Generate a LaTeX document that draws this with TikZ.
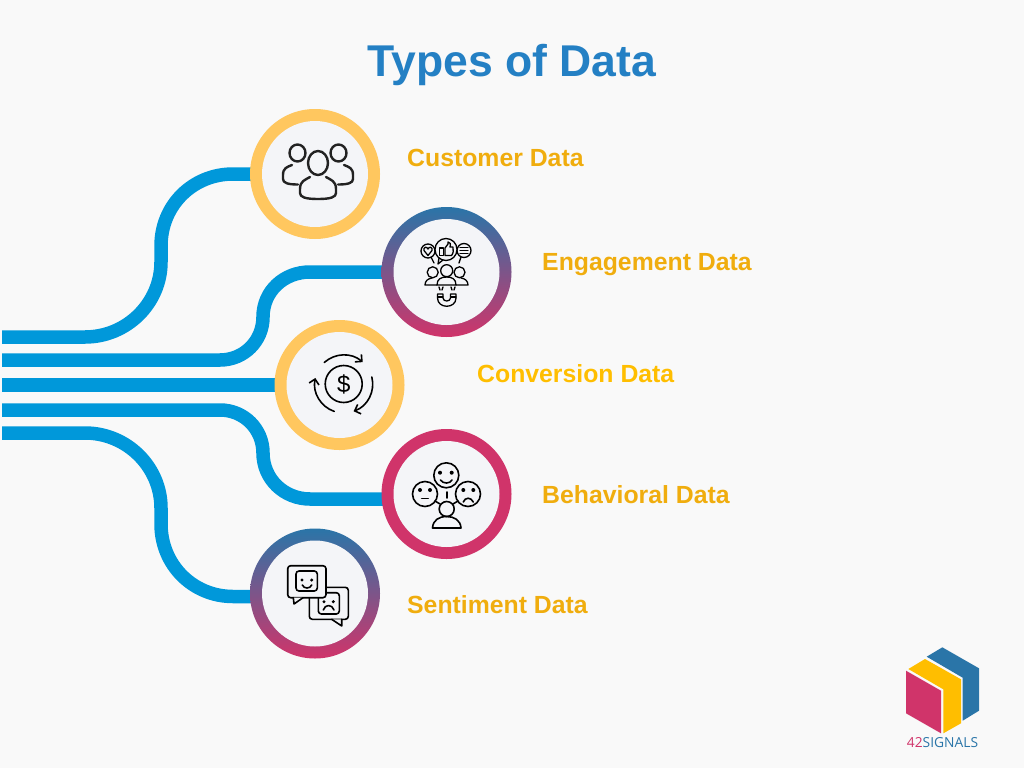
\documentclass[tikz,border=0pt]{standalone}
\usepackage{fontspec}
\setmainfont{Liberation Sans}
\newfontfamily\logofont{Open Sans}
\usetikzlibrary{arrows.meta}
\definecolor{paper}{HTML}{F9F9F9}
\definecolor{hubfill}{HTML}{F4F5F8}
\definecolor{wireblue}{HTML}{0098DA}
\definecolor{titleblue}{HTML}{2480C4}
\definecolor{labelgold}{HTML}{F0AD0E}
\definecolor{ringgold}{HTML}{FFC75F}
\definecolor{ringblue}{HTML}{2A75A8}
\definecolor{ringpink}{HTML}{D0346A}
\definecolor{logoyellow}{HTML}{FFBE00}
\definecolor{inkdark}{HTML}{222222}
\pgfdeclarelayer{back}
\pgfsetlayers{back,main}
\tikzset{
  wire/.style={draw=wireblue,line width=13.5pt},
  ringgoldnode/.style={circle,inner sep=0pt,minimum size=130pt,fill=ringgold},
  ringpinknode/.style={circle,inner sep=0pt,minimum size=130pt,fill=ringpink},
  ringfade/.style={circle,inner sep=0pt,minimum size=130pt,top color=ringblue,bottom color=ringpink},
  hub/.style={circle,inner sep=0pt,minimum size=106pt,fill=hubfill},
  tag/.style={anchor=base west,inner sep=0pt,font=\bfseries\fontsize{24.8}{25}\selectfont,text=labelgold},
  ink/.style={draw=black,line width=1.6pt,line cap=round,line join=round},
}
\begin{document}
\begin{tikzpicture}[x=1pt,y=-1pt]
\useasboundingbox (0,0) rectangle (1024,768);
\node[anchor=base,inner sep=0pt,font=\bfseries\fontsize{44.5}{45}\selectfont,text=titleblue] (title) at (512,76.7) {Types of Data};

\node[ringgoldnode] (customer) at (315,174) {};
\node[ringfade] (engagement) at (446.5,272) {};
\node[ringgoldnode] (conversion) at (339.5,385) {};
\node[ringpinknode] (behavioral) at (446.5,494) {};
\node[ringfade] (sentiment) at (315,593.5) {};
\node[hub] (hub1) at (customer) {};
\node[hub] (hub2) at (engagement) {};
\node[hub] (hub3) at (conversion) {};
\node[hub] (hub4) at (behavioral) {};
\node[hub] (hub5) at (sentiment) {};

\coordinate (w1) at (2,337);
\coordinate (w2) at (2,360);
\coordinate (w3) at (2,385);
\coordinate (w4) at (2,410);
\coordinate (w5) at (2,433);

% wires go under the circles
\begin{pgfonlayer}{back}
\fill[paper] (0,0) rectangle (1024,768);
\draw[wire] (w1) -- (85,337) .. controls (127,337) and (161,303) .. (161,262) -- (161,246) .. controls (161,205) and (193,174) .. (233,174) -- (customer.center);
\draw[wire] (w2) -- (220,360) .. controls (244,360) and (263,341) .. (263,317) .. controls (263,291) and (284,272) .. (310,272) -- (engagement.center);
\draw[wire] (w3) -- (conversion.center);
\draw[wire] (w4) -- (220,410) .. controls (244,410) and (263,429) .. (263,453) .. controls (263,479) and (284,499) .. (310,499) -- (behavioral.center |- 310,499);
\draw[wire] (w5) -- (85,433) .. controls (127,433) and (161,467) .. (161,508) -- (161,524) .. controls (161,565) and (193,596.5) .. (233,596.5) -- (sentiment.center |- 233,596.5);
\end{pgfonlayer}

\node[tag] (tag1) at (407,166.7) {Customer Data};
\node[tag] (tag2) at (542,270.7) {Engagement Data};
\node[tag,text=logoyellow] (tag3) at (477,382.7) {Conversion Data};
\node[tag] (tag4) at (542,503) {Behavioral Data};
\node[tag] (tag5) at (407,613) {Sentiment Data};

% customer icon
\begin{scope}[ink,draw=inkdark,line width=2.4pt]
\draw (318,163) ellipse (10 and 12);
\draw (297.5,153) ellipse (8 and 8.5);
\draw (338.5,153) ellipse (8 and 8.5);
\draw (310,177) .. controls (305,180) and (300,181) .. (300,189) -- (300,193) .. controls (300,197) and (305,199) .. (318,199) .. controls (331,199) and (336,197) .. (336,193) -- (336,189) .. controls (336,181) and (331,180) .. (326,177);
\draw (292,165) .. controls (287,167) and (283,168) .. (283,175) -- (283,179) .. controls (283,183) and (288,184.5) .. (298,184.5);
\draw (344,165) .. controls (349,167) and (353,168) .. (353,175) -- (353,179) .. controls (353,183) and (348,184.5) .. (338,184.5);
\end{scope}

% engagement icon
\begin{scope}[ink,line width=1.3pt]
\draw (428,251) circle (7);
\draw (464,250.5) circle (7);
\draw[fill=hubfill] (446,249.5) circle (11);
\draw (439,258) -- (438,264) -- (443,260);
\draw (431,257) -- (434,263);
\draw (461,257) -- (459,263);
\draw (428,255.5) -- (424,250.5) .. controls (423,247) and (427,246) .. (428,249) .. controls (429,246) and (433,247) .. (432,250.5) -- cycle;
\draw (460,247.5) -- (468,247.5) (460,250.5) -- (468,250.5) (460,253.5) -- (468,253.5);
\draw (439.5,248) rectangle (443.5,255.5);
\draw (445,255.5) -- (445,248) -- (448,244) -- (448,242) .. controls (450,242) and (451,244) .. (450,247) -- (453,247) .. controls (454,250) and (453,254) .. (451.5,255.5) -- cycle;
\draw (446.7,270.7) circle (6);
\draw (432.7,272.3) circle (5.5);
\draw (459.5,272.3) circle (5.5);
\draw (437,285) .. controls (437,279) and (441,277) .. (446.7,277) .. controls (452,277) and (456,279) .. (456,285) -- cycle;
\draw (437,285) -- (425,285) .. controls (425,281) and (428,278.5) .. (432,278);
\draw (456,285) -- (468,285) .. controls (468,281) and (465,278.5) .. (461,278);
\draw (437.5,294) -- (437.5,298) .. controls (437.5,309) and (456,309) .. (456,298) -- (456,294) -- (450.5,294) -- (450.5,298) .. controls (450.5,302) and (443,302) .. (443,298) -- (443,294) -- cycle;
\draw (437.5,297) -- (443,297) (450.5,297) -- (456,297);
\draw (439,287) -- (440,290) (443,287) -- (442,290) (451,287) -- (452,290) (455,287) -- (454,290);
\end{scope}

% conversion icon
\coordinate (c3) at (343.7,384);
\begin{scope}[ink,-{Straight Barb[length=5pt,width=10pt]}]
\draw ([shift={(-132:29)}]c3) arc[start angle=-132,end angle=-49,radius=29];
\draw ([shift={(-14:29)}]c3) arc[start angle=-14,end angle=70,radius=29];
\draw ([shift={(109:29)}]c3) arc[start angle=109,end angle=192,radius=29];
\end{scope}
\draw[ink] (c3) circle (18.5);
\node[font=\fontsize{24}{24}\selectfont] (dollar) at (c3) {\$};

% behavioral icon
\begin{scope}[ink]
\draw (446.3,475.3) circle (12.5);
\draw (425,494) circle (12.5);
\draw (468,494) circle (12.5);
\draw (446.7,509) circle (7.5);
\draw (432.5,528) .. controls (433,520) and (439,516.5) .. (446.7,516.5) .. controls (454,516.5) and (460.5,520) .. (461,528) -- cycle;
\draw (446.7,492) -- (446.7,498);
\draw (435,501) -- (440,504) (458,501) -- (453,504);
\draw (440.5,480) .. controls (443,484) and (450,484) .. (452,480);
\draw (421.7,498.3) -- (428.3,498.3);
\draw (463.3,502) .. controls (465,497) and (471,497) .. (473.3,502);
\fill (440,472.7) circle (2) (451.7,472.7) circle (2);
\fill (420,490) circle (2) (430,490) circle (2);
\fill (463.3,490) circle (2) (473.3,490) circle (2);
\end{scope}

% sentiment icon
\begin{scope}[ink]
\draw[rounded corners=3pt] (309.3,587.3) rectangle (348.3,619.3);
\draw[fill=hubfill] (331.7,619.3) -- (341.7,626) -- (341.7,619.3);
\draw[rounded corners=3pt] (318.3,592.7) rectangle (339.3,614);
\draw (323.3,610) .. controls (325,604) and (332,604) .. (334,610);
\fill (324,601.7) circle (1.7) (333.3,601.7) circle (1.7);
\draw[rounded corners=3pt,fill=hubfill] (287.7,565.7) rectangle (326,597.7);
\draw[fill=hubfill] (293.3,597.7) -- (294,604) -- (303,597.7);
\draw[rounded corners=3pt] (296,571) rectangle (317.3,591);
\draw (302.3,585) .. controls (304,589) and (310,589) .. (311.7,585);
\fill (302,580) circle (1.7) (311.7,580) circle (1.7);
\end{scope}

% logo
\fill[ringpink] (906,670.7) -- (941,690.7) -- (941,733.3) -- (906,713.3) -- cycle;
\fill[logoyellow] (908.3,669) -- (925,659) -- (961,679.3) -- (961,723.3) -- (943.3,733.3) -- (943.3,689.3) -- cycle;
\fill[ringblue] (926.7,656.7) -- (942.3,647.3) -- (979,668.3) -- (979,710.7) -- (962.7,720.7) -- (962.7,677.7) -- cycle;
\node[font=\logofont\fontsize{13.8}{14}\selectfont,text=ringblue] (logotext) at (942.5,743) {\textcolor{ringpink}{42}SIGNALS};
\end{tikzpicture}
\end{document}
